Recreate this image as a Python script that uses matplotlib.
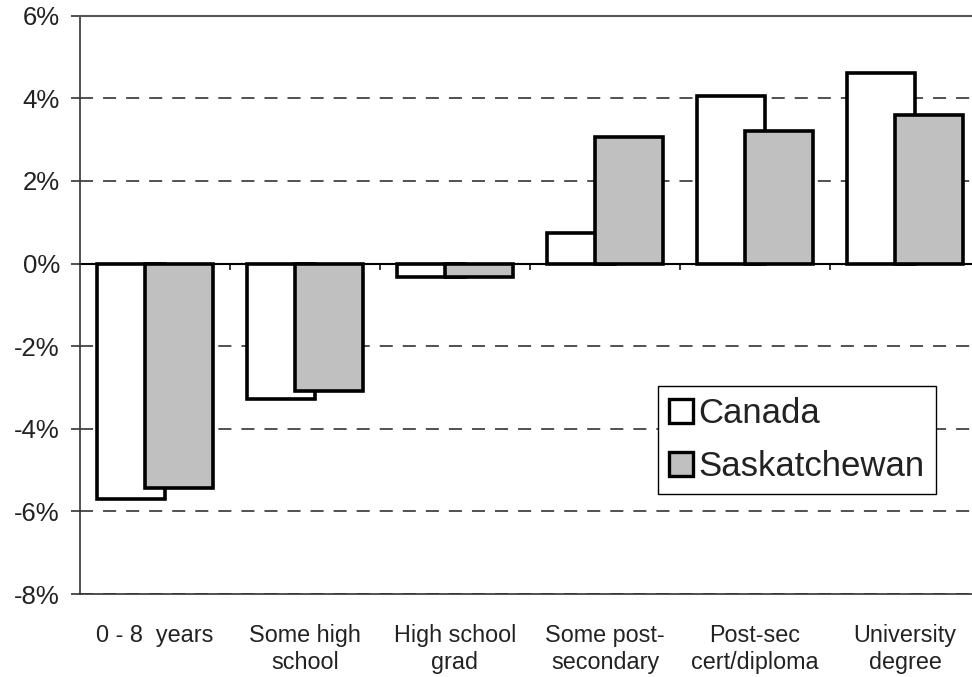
import matplotlib
matplotlib.use("Agg")
import matplotlib.pyplot as plt
import numpy as np
from matplotlib.ticker import FuncFormatter, FixedLocator

plt.rcParams['font.family'] = ['Liberation Sans', 'DejaVu Sans']
plt.rcParams['lines.scale_dashes'] = False

# Change in share of employment by education level (percentage points)
categories = ["0 - 8  years", "Some high\nschool", "High school\ngrad",
              "Some post-\nsecondary", "Post-sec\ncert/diploma", "University\ndegree"]
canada = [-5.70, -3.28, -0.32, 0.73, 4.06, 4.62]
saskatchewan = [-5.44, -3.08, -0.32, 3.06, 3.21, 3.60]
series_names = ["Canada", "Saskatchewan"]
y_ticks = [-8, -6, -4, -2, 0, 2, 4, 6]

W, H = 972, 677
fig = plt.figure(figsize=(W / 100, H / 100), dpi=100)
fig.patch.set_facecolor("white")

# plot area; right edge runs slightly past the figure border
ax = fig.add_axes([80 / W, (H - 594) / H, 900 / W, (594 - 15.7) / H])
ax.set_facecolor("white")

x = np.arange(len(categories))
bar_w = 0.457
off = 0.16
edge_lw = 2.6

ax.bar(x - off, canada, width=bar_w, color="white", edgecolor="black",
       linewidth=edge_lw, zorder=3, label=series_names[0])
ax.bar(x + off, saskatchewan, width=bar_w, color="#c0c0c0", edgecolor="black",
       linewidth=edge_lw, zorder=4, label=series_names[1])

ax.set_xlim(-0.5, len(categories) - 0.5)
ax.set_ylim(-8, 6)

# y axis
ax.yaxis.set_major_locator(FixedLocator(y_ticks))
ax.yaxis.set_major_formatter(FuncFormatter(lambda v, p: f"{v:.0f}%"))
ax.tick_params(axis="y", direction="out", length=6.5, width=1.1, color="#222222",
               pad=8.0, labelsize=18.5, labelcolor="#222222")
ax.grid(axis="y", color="#222222", linewidth=1.1, linestyle=(0, (9.4, 7.2)), zorder=1)
ax.set_axisbelow(True)

# category labels along the bottom border
ax.set_xticks(x)
ax.set_xticklabels(categories, fontsize=16.8, color="#222222", linespacing=1.25)
ax.tick_params(axis="x", length=0, pad=21.5)

for side in ("left", "bottom", "top"):
    ax.spines[side].set_color("#333333")
    ax.spines[side].set_linewidth(1.2)
ax.spines["top"].set_color("#555555")
ax.spines["top"].set_linewidth(1.5)
ax.spines["right"].set_visible(False)

# category axis line crossing at zero, with boundary ticks
zero_ax = ax.secondary_xaxis(0, transform=ax.transData)
zero_ax.set_xticks(np.arange(len(categories) - 1) + 0.5)
zero_ax.set_xticklabels([])
zero_ax.tick_params(axis="x", direction="out", length=4.5, width=1.1, color="black")
zero_ax.spines["bottom"].set_color("black")
zero_ax.spines["bottom"].set_linewidth(1.5)
zero_ax.set_zorder(2)

leg = ax.legend(loc="upper left", bbox_to_anchor=(658 / W, 1 - 386 / H),
                bbox_transform=fig.transFigure, fontsize=25, frameon=True,
                fancybox=False, shadow=False, borderpad=0.32, borderaxespad=0,
                handlelength=0.7, handleheight=0.66, handletextpad=0.15,
                labelspacing=0.58)
leg.get_frame().set_edgecolor("black")
leg.get_frame().set_linewidth(1.0)
leg.get_frame().set_facecolor("white")
leg.get_frame().set_alpha(1)
leg.set_zorder(10)
for t in leg.get_texts():
    t.set_color("#222222")
for h in leg.legend_handles:
    h.set_linewidth(2.4)

fig.savefig("out.png", dpi=100)
